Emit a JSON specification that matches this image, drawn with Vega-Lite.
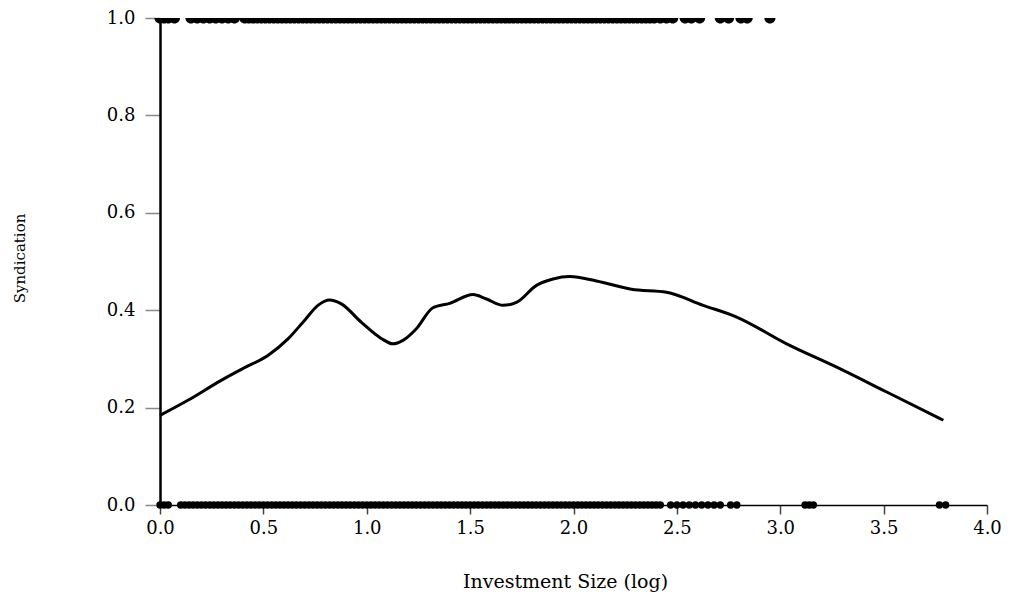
{
  "$schema": "https://vega.github.io/schema/vega-lite/v6.json",
  "width": 827,
  "height": 487,
  "autosize": {"type": "none"},
  "padding": {"left": 160, "top": 18, "right": 23, "bottom": 89},
  "background": "white",
  "config": {"view": {"stroke": null}, "axis": {"grid": false}},
  "datasets": {
    "fit": [
      {"x": 0.0, "y": 0.184}, {"x": 0.135, "y": 0.215}, {"x": 0.296, "y": 0.256}, {"x": 0.409, "y": 0.282},
      {"x": 0.522, "y": 0.307}, {"x": 0.619, "y": 0.341}, {"x": 0.699, "y": 0.379}, {"x": 0.764, "y": 0.41},
      {"x": 0.82, "y": 0.421}, {"x": 0.877, "y": 0.413}, {"x": 0.974, "y": 0.375}, {"x": 1.07, "y": 0.342},
      {"x": 1.127, "y": 0.331}, {"x": 1.175, "y": 0.338}, {"x": 1.24, "y": 0.362}, {"x": 1.32, "y": 0.405},
      {"x": 1.401, "y": 0.414}, {"x": 1.514, "y": 0.432}, {"x": 1.579, "y": 0.423}, {"x": 1.659, "y": 0.41},
      {"x": 1.724, "y": 0.416}, {"x": 1.821, "y": 0.451}, {"x": 1.901, "y": 0.464}, {"x": 1.982, "y": 0.469},
      {"x": 2.111, "y": 0.46}, {"x": 2.28, "y": 0.443}, {"x": 2.45, "y": 0.437}, {"x": 2.627, "y": 0.41},
      {"x": 2.789, "y": 0.386}, {"x": 3.031, "y": 0.331}, {"x": 3.273, "y": 0.283}, {"x": 3.515, "y": 0.232},
      {"x": 3.789, "y": 0.174}
    ],
    "pts": [
      {"x":0,"y":0},{"x":0.02,"y":0},{"x":0.04,"y":0},
      {"x":0.1,"y":0},{"x":0.12,"y":0},{"x":0.14,"y":0},{"x":0.16,"y":0},{"x":0.18,"y":0},{"x":0.2,"y":0},{"x":0.22,"y":0},{"x":0.24,"y":0},{"x":0.26,"y":0},{"x":0.28,"y":0},{"x":0.3,"y":0},{"x":0.32,"y":0},{"x":0.34,"y":0},{"x":0.36,"y":0},{"x":0.38,"y":0},{"x":0.4,"y":0},{"x":0.42,"y":0},{"x":0.44,"y":0},{"x":0.46,"y":0},{"x":0.48,"y":0},
      {"x":0.5,"y":0},{"x":0.52,"y":0},{"x":0.54,"y":0},{"x":0.56,"y":0},{"x":0.58,"y":0},{"x":0.6,"y":0},{"x":0.62,"y":0},{"x":0.64,"y":0},{"x":0.66,"y":0},{"x":0.68,"y":0},{"x":0.7,"y":0},{"x":0.72,"y":0},{"x":0.74,"y":0},{"x":0.76,"y":0},{"x":0.78,"y":0},{"x":0.8,"y":0},{"x":0.82,"y":0},{"x":0.84,"y":0},{"x":0.86,"y":0},{"x":0.88,"y":0},{"x":0.9,"y":0},{"x":0.92,"y":0},{"x":0.94,"y":0},{"x":0.96,"y":0},{"x":0.98,"y":0},
      {"x":1,"y":0},{"x":1.02,"y":0},{"x":1.04,"y":0},{"x":1.06,"y":0},{"x":1.08,"y":0},{"x":1.1,"y":0},{"x":1.12,"y":0},{"x":1.14,"y":0},{"x":1.16,"y":0},{"x":1.18,"y":0},{"x":1.2,"y":0},{"x":1.22,"y":0},{"x":1.24,"y":0},{"x":1.26,"y":0},{"x":1.28,"y":0},{"x":1.3,"y":0},{"x":1.32,"y":0},{"x":1.34,"y":0},{"x":1.36,"y":0},{"x":1.38,"y":0},{"x":1.4,"y":0},{"x":1.42,"y":0},{"x":1.44,"y":0},{"x":1.46,"y":0},{"x":1.48,"y":0},
      {"x":1.5,"y":0},{"x":1.52,"y":0},{"x":1.54,"y":0},{"x":1.56,"y":0},{"x":1.58,"y":0},{"x":1.6,"y":0},{"x":1.62,"y":0},{"x":1.64,"y":0},{"x":1.66,"y":0},{"x":1.68,"y":0},{"x":1.7,"y":0},{"x":1.72,"y":0},{"x":1.74,"y":0},{"x":1.76,"y":0},{"x":1.78,"y":0},{"x":1.8,"y":0},{"x":1.82,"y":0},{"x":1.84,"y":0},{"x":1.86,"y":0},{"x":1.88,"y":0},{"x":1.9,"y":0},{"x":1.92,"y":0},{"x":1.94,"y":0},{"x":1.96,"y":0},{"x":1.98,"y":0},
      {"x":2,"y":0},{"x":2.02,"y":0},{"x":2.04,"y":0},{"x":2.06,"y":0},{"x":2.08,"y":0},{"x":2.1,"y":0},{"x":2.12,"y":0},{"x":2.14,"y":0},{"x":2.16,"y":0},{"x":2.18,"y":0},{"x":2.2,"y":0},{"x":2.22,"y":0},{"x":2.24,"y":0},{"x":2.26,"y":0},{"x":2.28,"y":0},{"x":2.3,"y":0},{"x":2.32,"y":0},{"x":2.34,"y":0},{"x":2.36,"y":0},{"x":2.38,"y":0},{"x":2.4,"y":0},{"x":2.42,"y":0},
      {"x":2.47,"y":0},{"x":2.5,"y":0},{"x":2.53,"y":0},{"x":2.56,"y":0},{"x":2.59,"y":0},{"x":2.62,"y":0},{"x":2.65,"y":0},{"x":2.68,"y":0},{"x":2.71,"y":0},{"x":2.76,"y":0},{"x":2.79,"y":0},{"x":3.12,"y":0},{"x":3.14,"y":0},{"x":3.16,"y":0},{"x":3.77,"y":0},{"x":3.8,"y":0},
      {"x":0,"y":1},{"x":0.02,"y":1},{"x":0.04,"y":1},{"x":0.07,"y":1},{"x":0.15,"y":1},{"x":0.18,"y":1},{"x":0.21,"y":1},{"x":0.24,"y":1},{"x":0.27,"y":1},{"x":0.3,"y":1},{"x":0.33,"y":1},{"x":0.36,"y":1},
      {"x":0.41,"y":1},{"x":0.43,"y":1},{"x":0.45,"y":1},{"x":0.47,"y":1},{"x":0.49,"y":1},{"x":0.51,"y":1},{"x":0.53,"y":1},{"x":0.55,"y":1},{"x":0.57,"y":1},{"x":0.59,"y":1},{"x":0.61,"y":1},{"x":0.63,"y":1},{"x":0.65,"y":1},{"x":0.67,"y":1},{"x":0.69,"y":1},{"x":0.71,"y":1},{"x":0.73,"y":1},{"x":0.75,"y":1},{"x":0.77,"y":1},{"x":0.79,"y":1},{"x":0.81,"y":1},{"x":0.83,"y":1},{"x":0.85,"y":1},{"x":0.87,"y":1},{"x":0.89,"y":1},{"x":0.91,"y":1},{"x":0.93,"y":1},{"x":0.95,"y":1},{"x":0.97,"y":1},{"x":0.99,"y":1},
      {"x":1.01,"y":1},{"x":1.03,"y":1},{"x":1.05,"y":1},{"x":1.07,"y":1},{"x":1.09,"y":1},{"x":1.11,"y":1},{"x":1.13,"y":1},{"x":1.15,"y":1},{"x":1.17,"y":1},{"x":1.19,"y":1},{"x":1.21,"y":1},{"x":1.23,"y":1},{"x":1.25,"y":1},{"x":1.27,"y":1},{"x":1.29,"y":1},{"x":1.31,"y":1},{"x":1.33,"y":1},{"x":1.35,"y":1},{"x":1.37,"y":1},{"x":1.39,"y":1},{"x":1.41,"y":1},{"x":1.43,"y":1},{"x":1.45,"y":1},{"x":1.47,"y":1},{"x":1.49,"y":1},
      {"x":1.51,"y":1},{"x":1.53,"y":1},{"x":1.55,"y":1},{"x":1.57,"y":1},{"x":1.59,"y":1},{"x":1.61,"y":1},{"x":1.63,"y":1},{"x":1.65,"y":1},{"x":1.67,"y":1},{"x":1.69,"y":1},{"x":1.71,"y":1},{"x":1.73,"y":1},{"x":1.75,"y":1},{"x":1.77,"y":1},{"x":1.79,"y":1},{"x":1.81,"y":1},{"x":1.83,"y":1},{"x":1.85,"y":1},{"x":1.87,"y":1},{"x":1.89,"y":1},{"x":1.91,"y":1},{"x":1.93,"y":1},{"x":1.95,"y":1},{"x":1.97,"y":1},{"x":1.99,"y":1},
      {"x":2.01,"y":1},{"x":2.03,"y":1},{"x":2.05,"y":1},{"x":2.07,"y":1},{"x":2.09,"y":1},{"x":2.11,"y":1},{"x":2.13,"y":1},{"x":2.15,"y":1},{"x":2.17,"y":1},{"x":2.19,"y":1},{"x":2.21,"y":1},{"x":2.23,"y":1},{"x":2.25,"y":1},{"x":2.27,"y":1},{"x":2.29,"y":1},{"x":2.31,"y":1},{"x":2.33,"y":1},{"x":2.35,"y":1},{"x":2.37,"y":1},{"x":2.39,"y":1},
      {"x":2.42,"y":1},{"x":2.45,"y":1},{"x":2.48,"y":1},{"x":2.54,"y":1},{"x":2.57,"y":1},{"x":2.61,"y":1},{"x":2.71,"y":1},{"x":2.75,"y":1},{"x":2.81,"y":1},{"x":2.84,"y":1},{"x":2.95,"y":1}
    ]
  },
  "encoding": {
    "x": {
      "field": "x", "type": "quantitative",
      "scale": {"domain": [0, 4], "nice": false, "zero": false},
      "axis": {
        "title": "Investment Size (log)",
        "values": [0, 0.5, 1, 1.5, 2, 2.5, 3, 3.5, 4],
        "format": ".1f",
        "domainColor": "black", "domainWidth": 1.5,
        "tickColor": "#444", "tickWidth": 1.5, "tickSize": 9,
        "labelFont": "DejaVu Serif", "labelFontSize": 18, "labelColor": "black", "labelPadding": 5,
        "labelFlush": false, "labelOverlap": false,
        "titleFont": "DejaVu Serif", "titleFontSize": 19, "titleFontWeight": "normal", "titleColor": "black",
        "titleX": 405, "titleY": 82, "titleBaseline": "alphabetic", "titleAlign": "center"
      }
    },
    "y": {
      "field": "y", "type": "quantitative",
      "scale": {"domain": [0, 1], "nice": false, "zero": false},
      "axis": {
        "title": "Syndication",
        "values": [0, 0.2, 0.4, 0.6, 0.8, 1],
        "format": ".1f",
        "domainColor": "black", "domainWidth": 2.5,
        "tickColor": "#888", "tickWidth": 1.5, "tickSize": 15,
        "labelFont": "DejaVu Serif", "labelFontSize": 18, "labelColor": "black", "labelPadding": 10,
        "labelFlush": false, "labelOverlap": false,
        "titleFont": "DejaVu Serif", "titleFontSize": 15, "titleFontWeight": "normal", "titleColor": "black",
        "titleAngle": -90, "titleX": -141, "titleY": 240, "titleBaseline": "middle", "titleAlign": "center"
      }
    }
  },
  "layer": [
    {
      "data": {"name": "pts"},
      "mark": {"type": "point", "filled": true, "color": "black", "opacity": 1, "size": 55},
      "encoding": {
        "shape": {
          "field": "y", "type": "nominal",
          "scale": {"domain": [0, 1], "range": ["circle", "M -1.5 0 A 1.5 1.5 0 0 0 1.5 0 Z"]},
          "legend": null
        }
      }
    },
    {
      "data": {"name": "fit"},
      "mark": {"type": "line", "color": "black", "strokeWidth": 3, "interpolate": "monotone"},
      "encoding": {}
    }
  ]
}
